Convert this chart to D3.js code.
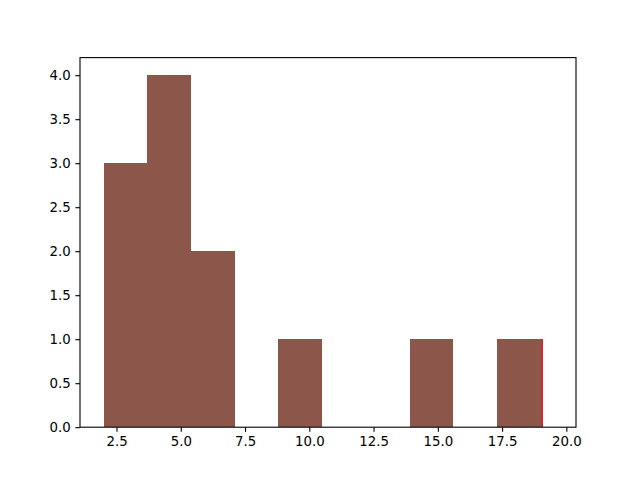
<!DOCTYPE html>
<html><head><meta charset="utf-8">
<script src="https://cdn.jsdelivr.net/npm/d3@7"></script>
<style>body{margin:0;background:#fff}svg{display:block}</style>
</head><body>
<script>
const binEdges = [2.0, 3.7, 5.4, 7.1, 8.8, 10.5, 12.2, 13.9, 15.6, 17.3, 19.0];
const counts = [3, 4, 2, 0, 1, 0, 0, 1, 0, 1];
const redEdges = [17.3, 19.1];
const redCounts = [1];
const xTicks = [2.5, 5.0, 7.5, 10.0, 12.5, 15.0, 17.5, 20.0];
const yTicks = [0, 0.5, 1.0, 1.5, 2.0, 2.5, 3.0, 3.5, 4.0];
const xDomain = [1.08, 20.375];
const yDomain = [0, 4.2];

const W = 640, H = 480;
const L = 80, R = 576, T = 57.6, B = 427.2;
const svg = d3.select("body").append("svg").attr("width", W).attr("height", H);
const x = d3.scaleLinear().domain(xDomain).range([L, R]);
const y = d3.scaleLinear().domain(yDomain).range([B, T]);

const mk = (edges, cnts) => cnts.map((c, i) => ({x0: edges[i], x1: edges[i + 1], c}));

svg.append("g").attr("shape-rendering", "crispEdges").selectAll("rect").data(mk(redEdges, redCounts).filter(d => d.c > 0)).join("rect")
  .attr("x", d => x(d.x0)).attr("width", d => x(d.x1) - x(d.x0))
  .attr("y", d => y(d.c)).attr("height", d => y(0) - y(d.c))
  .attr("fill", "#d62728");
svg.append("g").attr("shape-rendering", "crispEdges").selectAll("rect").data(mk(binEdges, counts).filter(d => d.c > 0)).join("rect")
  .attr("x", d => x(d.x0)).attr("width", d => x(d.x1) - x(d.x0))
  .attr("y", d => y(d.c)).attr("height", d => y(0) - y(d.c))
  .attr("fill", "#8c564b");

const font = "DejaVu Sans, sans-serif";
const xa = svg.append("g").attr("transform", `translate(0,${B})`)
  .call(d3.axisBottom(x).tickValues(xTicks).tickFormat(d3.format(".1f")).tickSizeOuter(0).tickSize(4.67).tickPadding(4.7));
const ya = svg.append("g").attr("transform", `translate(${L},0)`)
  .call(d3.axisLeft(y).tickValues(yTicks).tickFormat(d3.format(".1f")).tickSizeOuter(0).tickSize(4.67).tickPadding(4.7));
[xa, ya].forEach(a => {
  a.select(".domain").remove();
  a.selectAll("text").attr("font-family", font).attr("font-size", "13.33px").attr("fill", "#000");
  a.selectAll("line").attr("stroke", "#000").attr("stroke-width", 1.1);
});
svg.append("rect").attr("x", L).attr("y", T).attr("width", R - L).attr("height", B - T)
  .attr("fill", "none").attr("stroke", "#000").attr("stroke-width", 1.1);
</script>
</body></html>
